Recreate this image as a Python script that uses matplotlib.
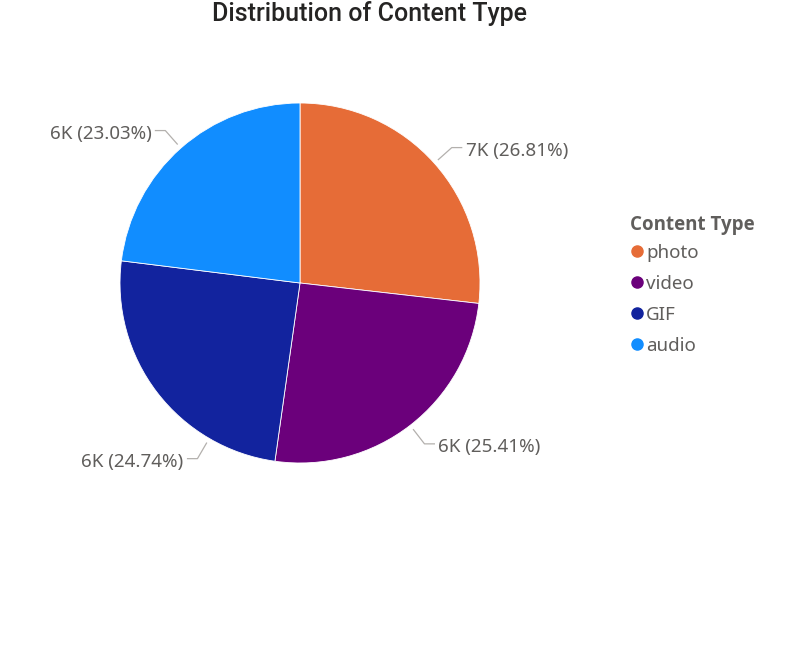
import numpy as np
import matplotlib
matplotlib.use("Agg")
import matplotlib.pyplot as plt
from matplotlib.lines import Line2D

# data
categories = ["photo", "video", "GIF", "audio"]
shares = [26.81, 25.41, 24.74, 23.03]
counts_k = ["7K", "6K", "6K", "6K"]
colors = ["#E66C37", "#6B007B", "#12239E", "#118DFF"]
# where along each wedge the label leader attaches (0..1 of the wedge)
label_frac = [0.5, 0.5, 0.25, 0.5]

text_grey = "#605E5C"
plt.rcParams["font.family"] = ["Noto Sans", "DejaVu Sans"]

fig = plt.figure(figsize=(7.85, 6.5), dpi=100)
W, H = 785, 650
cx, cy, r = 300, 283, 180
ax = fig.add_axes([(cx - r) / W, (H - cy - r) / H, 2 * r / W, 2 * r / H])

wedges, _ = ax.pie(shares, colors=colors, startangle=90, counterclock=False,
                   radius=1.0, wedgeprops=dict(linewidth=0.6, edgecolor="white"))
ax.set_xlim(-1, 1)
ax.set_ylim(-1, 1)
ax.set_aspect("equal")
ax.axis("off")

for w, cnt, pct, frac in zip(wedges, counts_k, shares, label_frac):
    a = np.deg2rad(w.theta2 - frac * (w.theta2 - w.theta1))
    x0, y0 = 1.03 * np.cos(a), 1.03 * np.sin(a)
    x1, y1 = 1.13 * np.cos(a), 1.13 * np.sin(a)
    side = 1 if np.cos(a) >= 0 else -1
    x2 = x1 + side * 0.055
    ax.plot([x0, x1, x2], [y0, y1, y1], color="#B3B0AD", lw=0.9, clip_on=False)
    ax.text(x2 + side * 0.022, y1 - 0.02, f"{cnt} ({pct:.2f}%)",
            ha="left" if side > 0 else "right", va="center",
            fontsize=13.5, color=text_grey, clip_on=False)

fig.text(370 / W, 1 - 14 / H, "Distribution of Content Type", ha="center", va="center",
         fontsize=18, fontweight="medium", color="#252423",
         family=["Roboto", "DejaVu Sans"])

# legend title drawn separately so the gap to the entries can be set
fig.text(630 / W, 1 - 225 / H, "Content Type", ha="left", va="center",
         fontsize=13.5, fontweight="bold", color=text_grey,
         family=["Open Sans", "DejaVu Sans"])
handles = [Line2D([], [], marker="o", linestyle="none", markersize=8,
                  markerfacecolor=c, markeredgecolor=c) for c in colors]
leg = fig.legend(handles, categories, loc="upper left",
                 bbox_to_anchor=(632 / W, 1 - 244 / H), frameon=False,
                 fontsize=13.5, labelcolor=text_grey,
                 handlelength=0.5, handletextpad=0.25, labelspacing=0.69,
                 borderaxespad=0, borderpad=0)

fig.savefig("out.png", dpi=100, facecolor="white")
